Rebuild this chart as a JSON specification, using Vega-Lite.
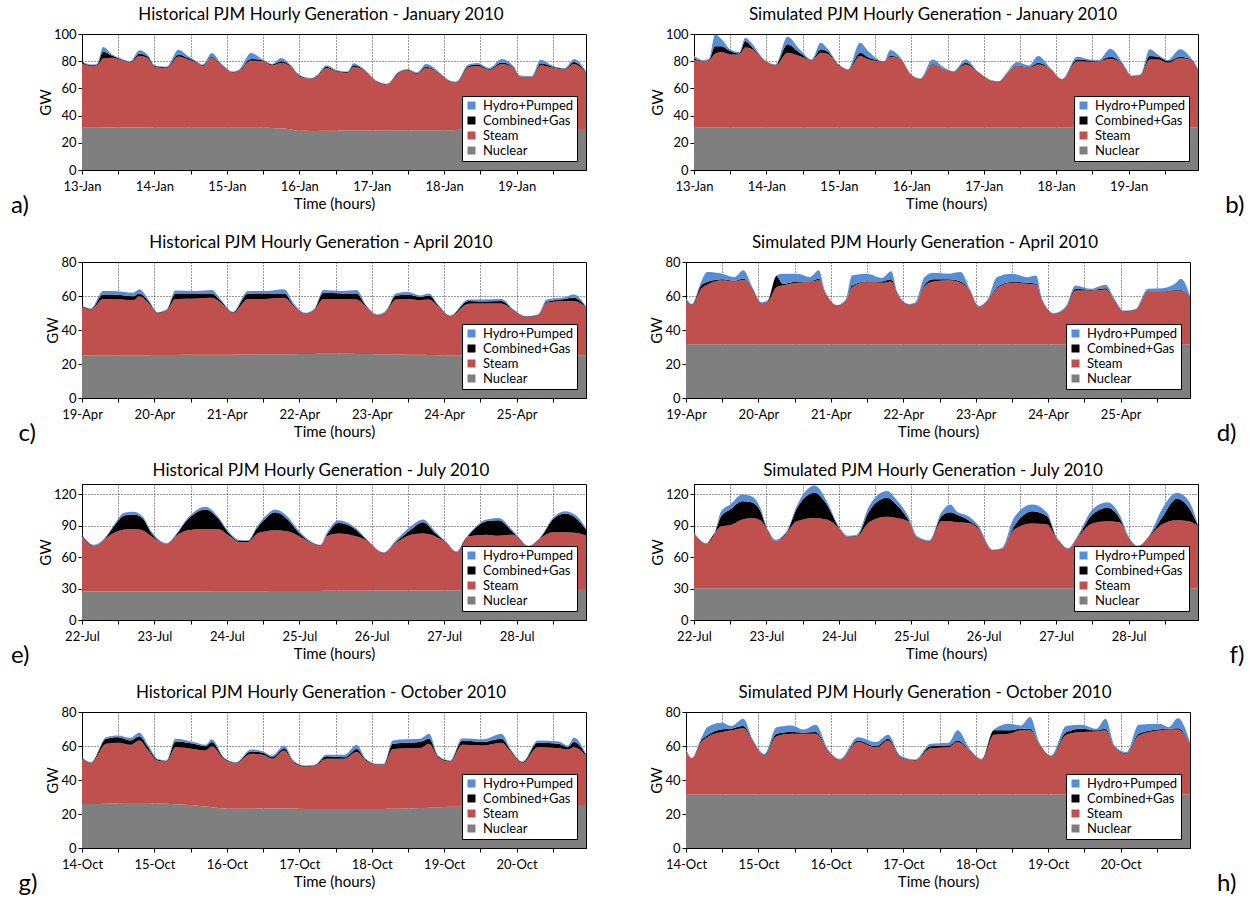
{
"$schema":"https://vega.github.io/schema/vega-lite/v6.json",
"padding":{"left":10,"top":5,"right":0,"bottom":0},
"config":{"font":"Lato","view":{"stroke":"black","strokeWidth":1},
"title":{"font":"Lato","fontSize":17,"fontWeight":"normal","color":"black","frame":"group","dx":-13,"offset":4},
"axis":{"domainColor":"black","tickColor":"black","labelColor":"black","titleColor":"black","labelFont":"Lato","titleFont":"Lato","labelFontSize":13,"titleFontSize":15,"titleFontWeight":"normal","gridColor":"black","gridDash":[1,2],"gridOpacity":0.8,"tickSize":4},
"axisX":{"labelPadding":6,"titlePadding":3,"labelFlush":false,"labelOverlap":false},
"axisY":{"labelPadding":2,"titlePadding":0},
"legend":{"orient":"bottom-right","offset":9,"padding":3,"fillColor":"white","strokeColor":"black","symbolType":"square","symbolSize":64,"symbolStrokeWidth":0,"labelFontSize":13,"labelFont":"Lato","labelColor":"black","rowPadding":1,"labelOffset":5}},
"data":{"values":[
{"p":"a","h":0,"a":31.4,"b":47.1,"c":1,"d":0.5},{"p":"a","h":3,"a":31.4,"b":45.1,"c":0.5,"d":0.5},{"p":"a","h":5,"a":31.4,"b":45.6,"c":0.5,"d":0.5},{"p":"a","h":7,"a":31.3,"b":50.7,"c":5,"d":3.4},{"p":"a","h":10,"a":31.3,"b":51.2,"c":1.5,"d":1},{"p":"a","h":13,"a":31.2,"b":49.8,"c":0.5,"d":0.5},{"p":"a","h":16,"a":31.2,"b":47.8,"c":0.5,"d":0.5},{"p":"a","h":19,"a":31.2,"b":52.8,"c":1.5,"d":2.5},{"p":"a","h":22,"a":31.2,"b":50.8,"c":1,"d":1},{"p":"a","h":24,"a":31.1,"b":44.9,"c":0.5,"d":0.5},{"p":"a","h":28,"a":31.1,"b":43.9,"c":0.5,"d":0.5},{"p":"a","h":32,"a":31.1,"b":52.4,"c":1.5,"d":3.5},{"p":"a","h":35,"a":31,"b":50.5,"c":1,"d":1.5},{"p":"a","h":38,"a":31,"b":48,"c":0.5,"d":0.5},{"p":"a","h":40,"a":31,"b":45.5,"c":0.5,"d":0.5},{"p":"a","h":43,"a":31,"b":51.5,"c":0.5,"d":3},{"p":"a","h":46,"a":31,"b":46.5,"c":0.5,"d":0.7},{"p":"a","h":50,"a":31,"b":40.7,"c":0.3,"d":0.5},{"p":"a","h":52,"a":31,"b":42,"c":0.3,"d":0.5},{"p":"a","h":56,"a":31,"b":49.4,"c":1.2,"d":4.4},{"p":"a","h":60,"a":31,"b":49,"c":0.5,"d":0.5},{"p":"a","h":63,"a":30.8,"b":46.2,"c":0.5,"d":0.5},{"p":"a","h":66,"a":30.5,"b":48.2,"c":1.3,"d":2.3},{"p":"a","h":69,"a":30,"b":46.5,"c":0.5,"d":0.5},{"p":"a","h":72,"a":28.8,"b":40.2,"c":0.5,"d":0.5},{"p":"a","h":76,"a":28.7,"b":38.3,"c":0.2,"d":0.4},{"p":"a","h":78,"a":28.7,"b":40.3,"c":0.5,"d":0.5},{"p":"a","h":81,"a":28.8,"b":46.2,"c":1,"d":1},{"p":"a","h":84,"a":28.9,"b":43.9,"c":0.4,"d":0.6},{"p":"a","h":88,"a":29,"b":42.5,"c":0.5,"d":0.5},{"p":"a","h":90,"a":29,"b":47,"c":1,"d":1.5},{"p":"a","h":93,"a":29,"b":45,"c":0.5,"d":0.5},{"p":"a","h":98,"a":29.1,"b":35.4,"c":0.3,"d":0.4},{"p":"a","h":101,"a":29.1,"b":33.7,"c":0.2,"d":0.5},{"p":"a","h":105,"a":29.2,"b":42.3,"c":0.5,"d":0.5},{"p":"a","h":108,"a":29.2,"b":44.1,"c":0.5,"d":0.5},{"p":"a","h":111,"a":29.2,"b":41.6,"c":0.5,"d":0.5},{"p":"a","h":114,"a":29.2,"b":45.8,"c":1,"d":2},{"p":"a","h":119,"a":29.3,"b":40.7,"c":0.3,"d":0.5},{"p":"a","h":121,"a":29.3,"b":37,"c":0.3,"d":0.4},{"p":"a","h":124,"a":29.5,"b":34.8,"c":0.3,"d":0.4},{"p":"a","h":128,"a":30,"b":45.5,"c":1,"d":1},{"p":"a","h":131,"a":30.1,"b":46.4,"c":1,"d":1.2},{"p":"a","h":135,"a":30.1,"b":43.7,"c":0.5,"d":0.7},{"p":"a","h":139,"a":30.1,"b":47.9,"c":1,"d":2.6},{"p":"a","h":143,"a":30.1,"b":44.9,"c":0.5,"d":0.7},{"p":"a","h":145,"a":30.1,"b":38.6,"c":0.3,"d":0.4},{"p":"a","h":149,"a":30.1,"b":38.1,"c":0.3,"d":0.4},{"p":"a","h":152,"a":30.1,"b":46.9,"c":1.5,"d":2.6},{"p":"a","h":156,"a":30.1,"b":45.2,"c":0.7,"d":0.7},{"p":"a","h":160,"a":30.1,"b":43.9,"c":0.5,"d":0.5},{"p":"a","h":163,"a":30.1,"b":47.9,"c":1.5,"d":2.1},{"p":"a","h":167,"a":30.1,"b":41.4,"c":0.5,"d":0.5},
{"p":"b","h":0,"a":31.4,"b":49.9,"c":0.7,"d":2},{"p":"b","h":3,"a":31.4,"b":48.6,"c":0.3,"d":0.5},{"p":"b","h":5,"a":31.4,"b":49.4,"c":0.4,"d":0.6},{"p":"b","h":7,"a":31.4,"b":54.1,"c":5.5,"d":8.7},{"p":"b","h":9,"a":31.4,"b":55.3,"c":4.3,"d":5.5},{"p":"b","h":12,"a":31.4,"b":53.6,"c":2.5,"d":1.2},{"p":"b","h":15,"a":31.4,"b":53.6,"c":0.7,"d":1},{"p":"b","h":17,"a":31.4,"b":58.6,"c":4.8,"d":2.5},{"p":"b","h":19,"a":31.4,"b":57.8,"c":1.8,"d":2.6},{"p":"b","h":23,"a":31.4,"b":49.9,"c":0.2,"d":0.3},{"p":"b","h":27,"a":31.4,"b":45.7,"c":0.2,"d":0.3},{"p":"b","h":31,"a":31.4,"b":54.8,"c":6.2,"d":5.6},{"p":"b","h":35,"a":31.4,"b":52.4,"c":2.4,"d":2.5},{"p":"b","h":39,"a":31.4,"b":49.4,"c":0.2,"d":0.3},{"p":"b","h":42,"a":31.4,"b":54.8,"c":2.5,"d":4.9},{"p":"b","h":44,"a":31.4,"b":54.3,"c":1.8,"d":2.4},{"p":"b","h":48,"a":31.4,"b":45.7,"c":0.2,"d":0.3},{"p":"b","h":51,"a":31.4,"b":42.1,"c":0.2,"d":0.3},{"p":"b","h":55,"a":31.4,"b":52.4,"c":2.4,"d":7.4},{"p":"b","h":58,"a":31.4,"b":49.9,"c":1.2,"d":4.2},{"p":"b","h":61,"a":31.4,"b":48.6,"c":0.5,"d":0.8},{"p":"b","h":63,"a":31.4,"b":48.2,"c":0.2,"d":0.2},{"p":"b","h":65,"a":31.4,"b":51.6,"c":0.8,"d":4.4},{"p":"b","h":68,"a":31.4,"b":51.1,"c":0.3,"d":1},{"p":"b","h":72,"a":31.4,"b":38.4,"c":0.2,"d":0.3},{"p":"b","h":75,"a":31.4,"b":35.4,"c":0.2,"d":0.3},{"p":"b","h":79,"a":31.4,"b":46.2,"c":0.4,"d":3.3},{"p":"b","h":83,"a":31.4,"b":42.6,"c":0.3,"d":0.9},{"p":"b","h":86,"a":31.4,"b":40.8,"c":0.2,"d":0.3},{"p":"b","h":90,"a":31.4,"b":46.2,"c":1.3,"d":2.4},{"p":"b","h":94,"a":31.4,"b":40.8,"c":0.2,"d":0.3},{"p":"b","h":99,"a":31.4,"b":34,"c":0.2,"d":0.2},{"p":"b","h":101,"a":31.4,"b":33.6,"c":0.2,"d":0.2},{"p":"b","h":104,"a":31.4,"b":40.1,"c":0.3,"d":0.9},{"p":"b","h":107,"a":31.4,"b":45,"c":0.4,"d":2.6},{"p":"b","h":111,"a":31.4,"b":43.8,"c":0.4,"d":1.3},{"p":"b","h":114,"a":31.4,"b":46.2,"c":1.3,"d":4.9},{"p":"b","h":118,"a":31.4,"b":43,"c":0.3,"d":0.5},{"p":"b","h":122,"a":31.4,"b":35.2,"c":0.2,"d":0.2},{"p":"b","h":127,"a":31.4,"b":48.6,"c":1.3,"d":2},{"p":"b","h":131,"a":31.4,"b":48.2,"c":1,"d":0.7},{"p":"b","h":134,"a":31.4,"b":48.5,"c":0.4,"d":0.5},{"p":"b","h":138,"a":31.4,"b":50.4,"c":1.5,"d":5.9},{"p":"b","h":142,"a":31.4,"b":46.2,"c":0.3,"d":1},{"p":"b","h":145,"a":31.4,"b":37.6,"c":0.2,"d":0.3},{"p":"b","h":148,"a":31.4,"b":38.4,"c":0.2,"d":0.3},{"p":"b","h":151,"a":31.4,"b":49.9,"c":2.5,"d":4.9},{"p":"b","h":154,"a":31.4,"b":49.9,"c":1.7,"d":1.3},{"p":"b","h":157,"a":31.4,"b":47.5,"c":1.2,"d":0.7},{"p":"b","h":161,"a":31.4,"b":50.9,"c":1,"d":5.4},{"p":"b","h":165,"a":31.4,"b":49.2,"c":0.3,"d":0.4},{"p":"b","h":167,"a":31.4,"b":42.1,"c":0.3,"d":0.6},
{"p":"c","h":0,"a":25,"b":28.6,"c":0.4,"d":0.4},{"p":"c","h":3,"a":25,"b":27.2,"c":0.2,"d":0.3},{"p":"c","h":7,"a":25.1,"b":33.2,"c":2.6,"d":2},{"p":"c","h":10,"a":25.1,"b":33.2,"c":2.6,"d":2},{"p":"c","h":17,"a":25.2,"b":32.4,"c":2.3,"d":2},{"p":"c","h":19,"a":25.2,"b":34.7,"c":1.6,"d":2.4},{"p":"c","h":22,"a":25.2,"b":30.8,"c":1,"d":1},{"p":"c","h":25,"a":25.3,"b":24.8,"c":0.2,"d":0.2},{"p":"c","h":28,"a":25.3,"b":26.2,"c":0.2,"d":0.3},{"p":"c","h":31,"a":25.3,"b":33,"c":3.2,"d":1.8},{"p":"c","h":38,"a":25.4,"b":33.1,"c":3,"d":1.4},{"p":"c","h":43,"a":25.4,"b":33.5,"c":2.6,"d":2},{"p":"c","h":46,"a":25.5,"b":30.5,"c":1,"d":1},{"p":"c","h":50,"a":25.5,"b":24.6,"c":0.3,"d":0.3},{"p":"c","h":55,"a":25.6,"b":32.7,"c":3,"d":1.6},{"p":"c","h":61,"a":25.7,"b":32.6,"c":3.2,"d":1.4},{"p":"c","h":67,"a":25.8,"b":33.1,"c":2.6,"d":2.4},{"p":"c","h":70,"a":25.8,"b":28.6,"c":0.6,"d":1},{"p":"c","h":74,"a":25.9,"b":23.7,"c":0.2,"d":0.3},{"p":"c","h":77,"a":25.9,"b":26.1,"c":0.2,"d":0.3},{"p":"c","h":80,"a":26,"b":32.3,"c":3.6,"d":1.6},{"p":"c","h":86,"a":26,"b":32.3,"c":3.2,"d":1.4},{"p":"c","h":91,"a":25.9,"b":32.1,"c":3.5,"d":2},{"p":"c","h":94,"a":25.9,"b":28.1,"c":0.5,"d":0.5},{"p":"c","h":98,"a":25.8,"b":22.8,"c":0.2,"d":0.3},{"p":"c","h":101,"a":25.7,"b":25.8,"c":0.2,"d":0.3},{"p":"c","h":104,"a":25.6,"b":32.4,"c":2.3,"d":1.2},{"p":"c","h":108,"a":25.5,"b":32.8,"c":2.5,"d":1.5},{"p":"c","h":112,"a":25.4,"b":32.2,"c":1.9,"d":0.8},{"p":"c","h":115,"a":25.3,"b":32.7,"c":2.3,"d":1.2},{"p":"c","h":118,"a":25.2,"b":28.8,"c":0.5,"d":0.5},{"p":"c","h":122,"a":25.1,"b":23,"c":0.2,"d":0.2},{"p":"c","h":128,"a":25,"b":30.4,"c":1.6,"d":1},{"p":"c","h":132,"a":25,"b":30.6,"c":1.2,"d":1.2},{"p":"c","h":139,"a":25,"b":30.6,"c":1.4,"d":1.3},{"p":"c","h":143,"a":25,"b":26.5,"c":0.2,"d":0.3},{"p":"c","h":147,"a":25,"b":22.7,"c":0.2,"d":0.2},{"p":"c","h":151,"a":25,"b":23.6,"c":0.2,"d":0.3},{"p":"c","h":154,"a":25,"b":31,"c":0.6,"d":1.4},{"p":"c","h":160,"a":25,"b":32,"c":1.3,"d":1},{"p":"c","h":163,"a":25,"b":32,"c":1.9,"d":2},{"p":"c","h":167,"a":25,"b":28.2,"c":0.3,"d":0.5},
{"p":"d","h":0,"a":31.6,"b":25.1,"c":0.3,"d":1.7},{"p":"d","h":2,"a":31.6,"b":23.1,"c":0.3,"d":0.3},{"p":"d","h":5,"a":31.6,"b":32.6,"c":2,"d":2},{"p":"d","h":7,"a":31.6,"b":35,"c":1.6,"d":5.9},{"p":"d","h":12,"a":31.6,"b":37.6,"c":0.6,"d":3.3},{"p":"d","h":16,"a":31.6,"b":37,"c":0.4,"d":2.1},{"p":"d","h":19,"a":31.6,"b":38,"c":0.6,"d":4.9},{"p":"d","h":22,"a":31.6,"b":32.6,"c":0.3,"d":0.7},{"p":"d","h":25,"a":31.6,"b":23.7,"c":0.3,"d":0.7},{"p":"d","h":27,"a":31.6,"b":24.7,"c":0.3,"d":0.7},{"p":"d","h":30,"a":31.6,"b":33.6,"c":6.5,"d":0.4},{"p":"d","h":32,"a":31.6,"b":34.6,"c":1,"d":5.9},{"p":"d","h":37,"a":31.6,"b":36.2,"c":0.8,"d":4.5},{"p":"d","h":41,"a":31.6,"b":36.6,"c":0.4,"d":2.5},{"p":"d","h":44,"a":31.6,"b":37.6,"c":1,"d":4.9},{"p":"d","h":46,"a":31.6,"b":30.7,"c":0.3,"d":0.6},{"p":"d","h":50,"a":31.6,"b":22.7,"c":0.2,"d":0.2},{"p":"d","h":53,"a":31.6,"b":25.7,"c":0.2,"d":0.8},{"p":"d","h":55,"a":31.6,"b":33.6,"c":1,"d":5.9},{"p":"d","h":60,"a":31.6,"b":36.6,"c":0.4,"d":4.5},{"p":"d","h":65,"a":31.6,"b":36.2,"c":0.8,"d":2},{"p":"d","h":68,"a":31.6,"b":37,"c":1.2,"d":4.7},{"p":"d","h":70,"a":31.6,"b":29.7,"c":0.3,"d":0.7},{"p":"d","h":74,"a":31.6,"b":23.1,"c":0.3,"d":0.3},{"p":"d","h":76,"a":31.6,"b":24,"c":0.2,"d":0.5},{"p":"d","h":79,"a":31.6,"b":34.2,"c":0.8,"d":4.5},{"p":"d","h":82,"a":31.6,"b":37,"c":1.2,"d":3.9},{"p":"d","h":87,"a":31.6,"b":37.6,"c":0.6,"d":3.3},{"p":"d","h":91,"a":31.6,"b":36.2,"c":0.8,"d":5.5},{"p":"d","h":94,"a":31.6,"b":31.6,"c":0.3,"d":0.7},{"p":"d","h":97,"a":31.6,"b":21.8,"c":0.2,"d":0.7},{"p":"d","h":100,"a":31.6,"b":25.8,"c":0.2,"d":0.7},{"p":"d","h":103,"a":31.6,"b":33,"c":0.6,"d":5.9},{"p":"d","h":108,"a":31.6,"b":36.2,"c":0.4,"d":4.9},{"p":"d","h":113,"a":31.6,"b":35.6,"c":0.6,"d":3.3},{"p":"d","h":116,"a":31.6,"b":35,"c":0.6,"d":4.9},{"p":"d","h":118,"a":31.6,"b":25.7,"c":0.3,"d":0.7},{"p":"d","h":122,"a":31.6,"b":17.8,"c":0.2,"d":0.4},{"p":"d","h":126,"a":31.6,"b":21.7,"c":0.2,"d":0.8},{"p":"d","h":129,"a":31.6,"b":31.6,"c":1,"d":2},{"p":"d","h":134,"a":31.6,"b":31.6,"c":0.3,"d":0.7},{"p":"d","h":139,"a":31.6,"b":32.2,"c":0.8,"d":2},{"p":"d","h":142,"a":31.6,"b":25.7,"c":0.3,"d":0.7},{"p":"d","h":145,"a":31.6,"b":19.2,"c":0.2,"d":0.4},{"p":"d","h":149,"a":31.6,"b":20.2,"c":0.2,"d":0.4},{"p":"d","h":153,"a":31.6,"b":30.7,"c":0.3,"d":1.6},{"p":"d","h":158,"a":31.6,"b":30.7,"c":0.3,"d":2},{"p":"d","h":162,"a":31.6,"b":31.6,"c":0.3,"d":3.7},{"p":"d","h":164,"a":31.6,"b":31.6,"c":0.3,"d":6.7},{"p":"d","h":167,"a":31.6,"b":27.7,"c":0.3,"d":0.7},
{"p":"e","h":0,"a":27.2,"b":52.8,"c":1,"d":0.6},{"p":"e","h":4,"a":27.2,"b":43.2,"c":0.6,"d":1},{"p":"e","h":8,"a":27.2,"b":51.2,"c":1,"d":0.6},{"p":"e","h":11,"a":27.2,"b":56.6,"c":7.4,"d":1.6},{"p":"e","h":14,"a":27.2,"b":59.2,"c":13.4,"d":2.6},{"p":"e","h":17,"a":27.2,"b":59.8,"c":13.8,"d":2.6},{"p":"e","h":20,"a":27.2,"b":58.6,"c":11.8,"d":1.6},{"p":"e","h":23,"a":27.2,"b":52.8,"c":3.2,"d":1.6},{"p":"e","h":28,"a":27.3,"b":45.3,"c":0.4,"d":0.6},{"p":"e","h":31,"a":27.3,"b":52.7,"c":0.8,"d":0.8},{"p":"e","h":35,"a":27.3,"b":58.5,"c":10.2,"d":1.6},{"p":"e","h":41,"a":27.3,"b":59.7,"c":18.6,"d":2.6},{"p":"e","h":45,"a":27.4,"b":59.6,"c":10.6,"d":1.6},{"p":"e","h":49,"a":27.4,"b":52.6,"c":2,"d":1.2},{"p":"e","h":52,"a":27.5,"b":47.1,"c":1,"d":1.2},{"p":"e","h":55,"a":27.5,"b":47.1,"c":0.8,"d":0.8},{"p":"e","h":58,"a":27.6,"b":55,"c":5.4,"d":1.6},{"p":"e","h":61,"a":27.6,"b":57.2,"c":12.8,"d":2.2},{"p":"e","h":64,"a":27.7,"b":58.1,"c":17.2,"d":2.6},{"p":"e","h":68,"a":27.7,"b":57.1,"c":11.8,"d":2.6},{"p":"e","h":72,"a":27.8,"b":52.2,"c":3,"d":1.8},{"p":"e","h":75,"a":27.8,"b":47.4,"c":0.8,"d":0.8},{"p":"e","h":79,"a":27.8,"b":43.2,"c":0.5,"d":0.5},{"p":"e","h":81,"a":27.9,"b":52.1,"c":1,"d":1.6},{"p":"e","h":85,"a":27.9,"b":54.7,"c":10.2,"d":2.6},{"p":"e","h":90,"a":28,"b":52.6,"c":7.4,"d":1.6},{"p":"e","h":94,"a":28,"b":48.8,"c":0.8,"d":0.8},{"p":"e","h":100,"a":28.1,"b":35.9,"c":0.3,"d":0.3},{"p":"e","h":104,"a":28.1,"b":45.5,"c":0.9,"d":1.7},{"p":"e","h":109,"a":28.2,"b":53.4,"c":4.8,"d":3.2},{"p":"e","h":113,"a":28.2,"b":54.4,"c":10.8,"d":2.6},{"p":"e","h":117,"a":28.3,"b":51.7,"c":3.2,"d":1.6},{"p":"e","h":121,"a":28.3,"b":44.7,"c":0.3,"d":0.3},{"p":"e","h":124,"a":28.4,"b":36.2,"c":0.4,"d":0.6},{"p":"e","h":128,"a":28.4,"b":51.6,"c":0.8,"d":0.8},{"p":"e","h":134,"a":28.5,"b":53.1,"c":12.8,"d":1.6},{"p":"e","h":138,"a":28.5,"b":52.1,"c":14.8,"d":2.2},{"p":"e","h":143,"a":28.6,"b":53,"c":1.9,"d":1.3},{"p":"e","h":148,"a":28.6,"b":41.8,"c":0.3,"d":0.3},{"p":"e","h":152,"a":28.7,"b":49.7,"c":0.6,"d":1},{"p":"e","h":156,"a":28.7,"b":55.1,"c":12.2,"d":1.6},{"p":"e","h":160,"a":28.8,"b":55,"c":18,"d":2.2},{"p":"e","h":164,"a":28.8,"b":54.4,"c":13.4,"d":2.6},{"p":"e","h":167,"a":28.8,"b":51.8,"c":5.8,"d":1.6},
{"p":"f","h":0,"a":30.4,"b":52.2,"c":0.4,"d":0.8},{"p":"f","h":4,"a":30.4,"b":42.6,"c":0.2,"d":0.4},{"p":"f","h":7,"a":30.4,"b":53.4,"c":0.4,"d":0.6},{"p":"f","h":9,"a":30.4,"b":59.2,"c":9.6,"d":4.8},{"p":"f","h":12,"a":30.4,"b":60.2,"c":15,"d":4.8},{"p":"f","h":16,"a":30.4,"b":65.6,"c":17.6,"d":6.4},{"p":"f","h":19,"a":30.4,"b":67.2,"c":15,"d":5.8},{"p":"f","h":22,"a":30.4,"b":65,"c":8.6,"d":3.2},{"p":"f","h":24,"a":30.4,"b":57.6,"c":0.5,"d":1.1},{"p":"f","h":27,"a":30.4,"b":44.8,"c":0.4,"d":1.2},{"p":"f","h":31,"a":30.4,"b":54.4,"c":0.6,"d":1},{"p":"f","h":34,"a":30.4,"b":64,"c":11.8,"d":2.6},{"p":"f","h":40,"a":30.4,"b":67.2,"c":24,"d":7},{"p":"f","h":44,"a":30.4,"b":65.6,"c":14.4,"d":3.2},{"p":"f","h":48,"a":30.4,"b":57.6,"c":0.5,"d":1.1},{"p":"f","h":51,"a":30.4,"b":49,"c":0.4,"d":0.8},{"p":"f","h":54,"a":30.4,"b":49.6,"c":0.5,"d":1.1},{"p":"f","h":58,"a":30.4,"b":63,"c":10.6,"d":4.8},{"p":"f","h":64,"a":30.4,"b":68.2,"c":18.2,"d":6.4},{"p":"f","h":67,"a":30.4,"b":67.2,"c":12.8,"d":4.8},{"p":"f","h":71,"a":30.4,"b":64,"c":1.6,"d":3.2},{"p":"f","h":74,"a":30.4,"b":48,"c":0.4,"d":1.2},{"p":"f","h":78,"a":30.4,"b":44.8,"c":0.4,"d":0.6},{"p":"f","h":82,"a":30.4,"b":64,"c":4.8,"d":3.8},{"p":"f","h":85,"a":30.4,"b":64,"c":8.6,"d":7.4},{"p":"f","h":87,"a":30.4,"b":63,"c":7.4,"d":3.2},{"p":"f","h":91,"a":30.4,"b":62.4,"c":2.6,"d":3.8},{"p":"f","h":94,"a":30.4,"b":57.6,"c":1,"d":2.2},{"p":"f","h":99,"a":30.4,"b":36.2,"c":0.3,"d":0.3},{"p":"f","h":102,"a":30.4,"b":37.6,"c":0.3,"d":0.5},{"p":"f","h":106,"a":30.4,"b":56,"c":3.2,"d":8},{"p":"f","h":112,"a":30.4,"b":61.8,"c":11.8,"d":6.4},{"p":"f","h":117,"a":30.4,"b":60.8,"c":8,"d":3.2},{"p":"f","h":120,"a":30.4,"b":48.6,"c":0.4,"d":0.6},{"p":"f","h":124,"a":30.4,"b":37.4,"c":0.3,"d":0.7},{"p":"f","h":127,"a":30.4,"b":48,"c":0.4,"d":1.2},{"p":"f","h":132,"a":30.4,"b":61.8,"c":8.6,"d":4.8},{"p":"f","h":137,"a":30.4,"b":64,"c":12.8,"d":5.4},{"p":"f","h":141,"a":30.4,"b":63,"c":4.2,"d":3.2},{"p":"f","h":144,"a":30.4,"b":48,"c":0.4,"d":1.2},{"p":"f","h":147,"a":30.4,"b":40,"c":0.2,"d":0.4},{"p":"f","h":151,"a":30.4,"b":50.2,"c":0.4,"d":0.6},{"p":"f","h":155,"a":30.4,"b":60.8,"c":6.4,"d":8},{"p":"f","h":160,"a":30.4,"b":65,"c":20.4,"d":5.8},{"p":"f","h":164,"a":30.4,"b":64,"c":12.8,"d":6.4},{"p":"f","h":167,"a":30.4,"b":59.2,"c":0.6,"d":1},
{"p":"g","h":0,"a":25.9,"b":26.6,"c":0.5,"d":0.4},{"p":"g","h":3,"a":25.9,"b":24.1,"c":0.2,"d":0.3},{"p":"g","h":8,"a":26.1,"b":35.2,"c":2.9,"d":1},{"p":"g","h":12,"a":26.3,"b":35.6,"c":3.3,"d":1},{"p":"g","h":16,"a":26.4,"b":34.3,"c":2.6,"d":1.5},{"p":"g","h":19,"a":26.5,"b":36.8,"c":2.5,"d":2},{"p":"g","h":22,"a":26.5,"b":30.9,"c":1.6,"d":1.3},{"p":"g","h":25,"a":26.3,"b":25.2,"c":0.5,"d":0.5},{"p":"g","h":28,"a":26.1,"b":24.8,"c":0.3,"d":0.3},{"p":"g","h":31,"a":25.8,"b":33.5,"c":3.4,"d":1.5},{"p":"g","h":37,"a":25.2,"b":33.1,"c":3,"d":1},{"p":"g","h":41,"a":24.4,"b":33,"c":2.5,"d":0.8},{"p":"g","h":43,"a":24,"b":35.9,"c":2.4,"d":1.6},{"p":"g","h":47,"a":23.3,"b":29.2,"c":0.5,"d":0.4},{"p":"g","h":51,"a":23.1,"b":26.8,"c":0.3,"d":0.3},{"p":"g","h":56,"a":23.1,"b":32.3,"c":1.4,"d":1.2},{"p":"g","h":60,"a":23.2,"b":31.6,"c":1.2,"d":0.8},{"p":"g","h":63,"a":23.2,"b":29.3,"c":0.9,"d":1},{"p":"g","h":67,"a":23.3,"b":34.1,"c":1.3,"d":1.6},{"p":"g","h":70,"a":23.2,"b":27.3,"c":0.5,"d":0.5},{"p":"g","h":74,"a":23,"b":24.9,"c":0.3,"d":0.3},{"p":"g","h":77,"a":23,"b":25.3,"c":0.3,"d":0.3},{"p":"g","h":81,"a":23,"b":29.5,"c":1.5,"d":0.8},{"p":"g","h":87,"a":23,"b":29.5,"c":0.9,"d":1.4},{"p":"g","h":91,"a":23,"b":33.4,"c":1.9,"d":2.4},{"p":"g","h":94,"a":23,"b":28.5,"c":0.5,"d":0.5},{"p":"g","h":98,"a":23,"b":25.9,"c":0.3,"d":0.3},{"p":"g","h":100,"a":23,"b":25.9,"c":0.3,"d":0.3},{"p":"g","h":103,"a":23.1,"b":35.2,"c":3,"d":2},{"p":"g","h":108,"a":23.3,"b":35.4,"c":3.2,"d":2},{"p":"g","h":112,"a":23.5,"b":35.2,"c":3.6,"d":1.9},{"p":"g","h":115,"a":23.7,"b":37.6,"c":2.9,"d":3},{"p":"g","h":118,"a":24,"b":29.4,"c":0.5,"d":0.5},{"p":"g","h":122,"a":24.2,"b":26.7,"c":0.3,"d":0.3},{"p":"g","h":126,"a":24.3,"b":36.4,"c":2.6,"d":1.3},{"p":"g","h":133,"a":24.4,"b":35.9,"c":2,"d":1.6},{"p":"g","h":139,"a":24.6,"b":37.3,"c":2.3,"d":3},{"p":"g","h":142,"a":24.7,"b":32.1,"c":0.7,"d":0.8},{"p":"g","h":146,"a":24.8,"b":25.3,"c":0.4,"d":0.4},{"p":"g","h":151,"a":25,"b":34.3,"c":2.6,"d":1.4},{"p":"g","h":158,"a":25.2,"b":33.5,"c":2.6,"d":1.4},{"p":"g","h":161,"a":25.3,"b":32.7,"c":1.3,"d":1},{"p":"g","h":163,"a":25.3,"b":34,"c":3,"d":2.5},{"p":"g","h":167,"a":25.3,"b":29.1,"c":0.5,"d":0.5},
{"p":"h","h":0,"a":31.4,"b":25,"c":0.4,"d":1.5},{"p":"h","h":2,"a":31.4,"b":21.4,"c":0.1,"d":0.1},{"p":"h","h":5,"a":31.4,"b":30.9,"c":1,"d":0.9},{"p":"h","h":7,"a":31.4,"b":33.8,"c":1,"d":4.9},{"p":"h","h":12,"a":31.4,"b":36.8,"c":1.6,"d":3.9},{"p":"h","h":15,"a":31.4,"b":37.8,"c":1,"d":1.5},{"p":"h","h":19,"a":31.4,"b":39.1,"c":1.2,"d":4.3},{"p":"h","h":22,"a":31.4,"b":31.9,"c":0.3,"d":0.6},{"p":"h","h":26,"a":31.4,"b":23,"c":0.3,"d":0.7},{"p":"h","h":30,"a":31.4,"b":34.4,"c":1.4,"d":3.9},{"p":"h","h":35,"a":31.4,"b":35.8,"c":1,"d":3.9},{"p":"h","h":39,"a":31.4,"b":35.8,"c":0.6,"d":1.9},{"p":"h","h":43,"a":31.4,"b":35.8,"c":1,"d":4.3},{"p":"h","h":47,"a":31.4,"b":26,"c":0.3,"d":0.6},{"p":"h","h":51,"a":31.4,"b":20.5,"c":0.2,"d":0.4},{"p":"h","h":57,"a":31.4,"b":30.9,"c":1,"d":1.9},{"p":"h","h":63,"a":31.4,"b":27.7,"c":0.8,"d":2.4},{"p":"h","h":67,"a":31.4,"b":31.9,"c":0.9,"d":2.4},{"p":"h","h":71,"a":31.4,"b":22,"c":0.3,"d":0.7},{"p":"h","h":76,"a":31.4,"b":20.1,"c":0.2,"d":0.4},{"p":"h","h":81,"a":31.4,"b":27.3,"c":1.2,"d":1.4},{"p":"h","h":87,"a":31.4,"b":27.9,"c":1,"d":1.6},{"p":"h","h":90,"a":31.4,"b":30.9,"c":1,"d":5.9},{"p":"h","h":94,"a":31.4,"b":26,"c":0.3,"d":0.6},{"p":"h","h":98,"a":31.4,"b":20.5,"c":0.2,"d":0.4},{"p":"h","h":102,"a":31.4,"b":35.2,"c":2.6,"d":0.5},{"p":"h","h":107,"a":31.4,"b":35.8,"c":2,"d":3.9},{"p":"h","h":111,"a":31.4,"b":37.8,"c":1,"d":1.9},{"p":"h","h":114,"a":31.4,"b":37.8,"c":1,"d":6.8},{"p":"h","h":117,"a":31.4,"b":29.9,"c":0.3,"d":0.7},{"p":"h","h":121,"a":31.4,"b":22.4,"c":0.2,"d":0.4},{"p":"h","h":126,"a":31.4,"b":35.2,"c":1.6,"d":3.5},{"p":"h","h":131,"a":31.4,"b":36.8,"c":2,"d":2.3},{"p":"h","h":136,"a":31.4,"b":37.2,"c":0.6,"d":0.9},{"p":"h","h":139,"a":31.4,"b":37.8,"c":1,"d":5.8},{"p":"h","h":142,"a":31.4,"b":27.9,"c":0.3,"d":0.7},{"p":"h","h":146,"a":31.4,"b":24,"c":0.3,"d":0.7},{"p":"h","h":150,"a":31.4,"b":34.8,"c":1,"d":5.3},{"p":"h","h":157,"a":31.4,"b":37.8,"c":0.6,"d":3.3},{"p":"h","h":160,"a":31.4,"b":38.3,"c":0.5,"d":0.9},{"p":"h","h":163,"a":31.4,"b":38.3,"c":0.8,"d":5.9},{"p":"h","h":167,"a":31.4,"b":29.9,"c":0.3,"d":0.7}
]},
"spacing":15,
"resolve":{"scale":{"x":"independent","y":"independent","color":"independent"},"legend":{"color":"independent"}},
"vconcat":[
{"spacing":62,"resolve":{"scale":{"x":"independent","y":"independent","color":"independent"},"legend":{"color":"independent"}},"hconcat":[
 {"title":{"text":"a)","orient":"bottom","anchor":"start","frame":"bounds","fontSize":24,"dx":-27,"dy":-18,"offset":0},"resolve":{"scale":{"color":"independent"},"legend":{"color":"independent"}},"vconcat":[
  {"width":504,"height":136,"title":{"text":"Historical PJM Hourly Generation - January 2010"},
   "transform":[{"filter":"datum.p==='a'"},{"fold":["a","b","c","d"],"as":["k","v"]}],
   "mark":{"type":"area","interpolate":"monotone"},
   "encoding":{"x":{"field":"h","type":"quantitative","scale":{"domain":[0,167],"nice":false},"axis":{"values":[0,12,24,36,48,60,72,84,96,108,120,132,144,156],"labelExpr":"datum.value%24===0?['13-Jan','14-Jan','15-Jan','16-Jan','17-Jan','18-Jan','19-Jan'][datum.value/24]:''","title":"Time (hours)"}},
    "y":{"field":"v","type":"quantitative","stack":"zero","scale":{"domain":[0,100],"nice":false},"axis":{"values":[0,20,40,60,80,100],"title":"GW"}},
    "color":{"field":"k","type":"nominal","scale":{"domain":["d","c","b","a"],"range":["#558ED5","#000000","#C0504D","#7F7F7F"]},"legend":{"title":null,"labelExpr":"datum.label=='d'?'Hydro+Pumped':datum.label=='c'?'Combined+Gas':datum.label=='b'?'Steam':'Nuclear'"}},
    "order":{"field":"k","type":"nominal"}}}]},
 {"title":{"text":"b)","orient":"bottom","anchor":"end","frame":"bounds","fontSize":24,"dx":46,"dy":-18,"offset":0},"resolve":{"scale":{"color":"independent"},"legend":{"color":"independent"}},"vconcat":[
  {"width":504,"height":136,"title":{"text":"Simulated PJM Hourly Generation - January 2010"},
   "transform":[{"filter":"datum.p==='b'"},{"fold":["a","b","c","d"],"as":["k","v"]}],
   "mark":{"type":"area","interpolate":"monotone"},
   "encoding":{"x":{"field":"h","type":"quantitative","scale":{"domain":[0,167],"nice":false},"axis":{"values":[0,12,24,36,48,60,72,84,96,108,120,132,144,156],"labelExpr":"datum.value%24===0?['13-Jan','14-Jan','15-Jan','16-Jan','17-Jan','18-Jan','19-Jan'][datum.value/24]:''","title":"Time (hours)"}},
    "y":{"field":"v","type":"quantitative","stack":"zero","scale":{"domain":[0,100],"nice":false},"axis":{"values":[0,20,40,60,80,100],"title":"GW"}},
    "color":{"field":"k","type":"nominal","scale":{"domain":["d","c","b","a"],"range":["#558ED5","#000000","#C0504D","#7F7F7F"]},"legend":{"title":null,"labelExpr":"datum.label=='d'?'Hydro+Pumped':datum.label=='c'?'Combined+Gas':datum.label=='b'?'Steam':'Nuclear'"}},
    "order":{"field":"k","type":"nominal"}}}]}
]},
{"spacing":62,"resolve":{"scale":{"x":"independent","y":"independent","color":"independent"},"legend":{"color":"independent"}},"hconcat":[
 {"title":{"text":"c)","orient":"bottom","anchor":"start","frame":"bounds","fontSize":24,"dx":-27,"dy":-18,"offset":0},"resolve":{"scale":{"color":"independent"},"legend":{"color":"independent"}},"vconcat":[
  {"width":504,"height":136,"title":{"text":"Historical PJM Hourly Generation - April 2010"},
   "transform":[{"filter":"datum.p==='c'"},{"fold":["a","b","c","d"],"as":["k","v"]}],
   "mark":{"type":"area","interpolate":"monotone"},
   "encoding":{"x":{"field":"h","type":"quantitative","scale":{"domain":[0,167],"nice":false},"axis":{"values":[0,12,24,36,48,60,72,84,96,108,120,132,144,156],"labelExpr":"datum.value%24===0?['19-Apr','20-Apr','21-Apr','22-Apr','23-Apr','24-Apr','25-Apr'][datum.value/24]:''","title":"Time (hours)"}},
    "y":{"field":"v","type":"quantitative","stack":"zero","scale":{"domain":[0,80],"nice":false},"axis":{"values":[0,20,40,60,80],"title":"GW"}},
    "color":{"field":"k","type":"nominal","scale":{"domain":["d","c","b","a"],"range":["#558ED5","#000000","#C0504D","#7F7F7F"]},"legend":{"title":null,"labelExpr":"datum.label=='d'?'Hydro+Pumped':datum.label=='c'?'Combined+Gas':datum.label=='b'?'Steam':'Nuclear'"}},
    "order":{"field":"k","type":"nominal"}}}]},
 {"title":{"text":"d)","orient":"bottom","anchor":"end","frame":"bounds","fontSize":24,"dx":46,"dy":-18,"offset":0},"resolve":{"scale":{"color":"independent"},"legend":{"color":"independent"}},"vconcat":[
  {"width":504,"height":136,"title":{"text":"Simulated PJM Hourly Generation - April 2010"},
   "transform":[{"filter":"datum.p==='d'"},{"fold":["a","b","c","d"],"as":["k","v"]}],
   "mark":{"type":"area","interpolate":"monotone"},
   "encoding":{"x":{"field":"h","type":"quantitative","scale":{"domain":[0,167],"nice":false},"axis":{"values":[0,12,24,36,48,60,72,84,96,108,120,132,144,156],"labelExpr":"datum.value%24===0?['19-Apr','20-Apr','21-Apr','22-Apr','23-Apr','24-Apr','25-Apr'][datum.value/24]:''","title":"Time (hours)"}},
    "y":{"field":"v","type":"quantitative","stack":"zero","scale":{"domain":[0,80],"nice":false},"axis":{"values":[0,20,40,60,80],"title":"GW"}},
    "color":{"field":"k","type":"nominal","scale":{"domain":["d","c","b","a"],"range":["#558ED5","#000000","#C0504D","#7F7F7F"]},"legend":{"title":null,"labelExpr":"datum.label=='d'?'Hydro+Pumped':datum.label=='c'?'Combined+Gas':datum.label=='b'?'Steam':'Nuclear'"}},
    "order":{"field":"k","type":"nominal"}}}]}
]},
{"spacing":62,"resolve":{"scale":{"x":"independent","y":"independent","color":"independent"},"legend":{"color":"independent"}},"hconcat":[
 {"title":{"text":"e)","orient":"bottom","anchor":"start","frame":"bounds","fontSize":24,"dx":-27,"dy":-18,"offset":0},"resolve":{"scale":{"color":"independent"},"legend":{"color":"independent"}},"vconcat":[
  {"width":504,"height":136,"title":{"text":"Historical PJM Hourly Generation - July 2010"},
   "transform":[{"filter":"datum.p==='e'"},{"fold":["a","b","c","d"],"as":["k","v"]}],
   "mark":{"type":"area","interpolate":"monotone"},
   "encoding":{"x":{"field":"h","type":"quantitative","scale":{"domain":[0,167],"nice":false},"axis":{"values":[0,12,24,36,48,60,72,84,96,108,120,132,144,156],"labelExpr":"datum.value%24===0?['22-Jul','23-Jul','24-Jul','25-Jul','26-Jul','27-Jul','28-Jul'][datum.value/24]:''","title":"Time (hours)"}},
    "y":{"field":"v","type":"quantitative","stack":"zero","scale":{"domain":[0,130],"nice":false},"axis":{"values":[0,30,60,90,120],"title":"GW"}},
    "color":{"field":"k","type":"nominal","scale":{"domain":["d","c","b","a"],"range":["#558ED5","#000000","#C0504D","#7F7F7F"]},"legend":{"title":null,"labelExpr":"datum.label=='d'?'Hydro+Pumped':datum.label=='c'?'Combined+Gas':datum.label=='b'?'Steam':'Nuclear'"}},
    "order":{"field":"k","type":"nominal"}}}]},
 {"title":{"text":"f)","orient":"bottom","anchor":"end","frame":"bounds","fontSize":24,"dx":46,"dy":-18,"offset":0},"resolve":{"scale":{"color":"independent"},"legend":{"color":"independent"}},"vconcat":[
  {"width":504,"height":136,"title":{"text":"Simulated PJM Hourly Generation - July 2010"},
   "transform":[{"filter":"datum.p==='f'"},{"fold":["a","b","c","d"],"as":["k","v"]}],
   "mark":{"type":"area","interpolate":"monotone"},
   "encoding":{"x":{"field":"h","type":"quantitative","scale":{"domain":[0,167],"nice":false},"axis":{"values":[0,12,24,36,48,60,72,84,96,108,120,132,144,156],"labelExpr":"datum.value%24===0?['22-Jul','23-Jul','24-Jul','25-Jul','26-Jul','27-Jul','28-Jul'][datum.value/24]:''","title":"Time (hours)"}},
    "y":{"field":"v","type":"quantitative","stack":"zero","scale":{"domain":[0,130],"nice":false},"axis":{"values":[0,30,60,90,120],"title":"GW"}},
    "color":{"field":"k","type":"nominal","scale":{"domain":["d","c","b","a"],"range":["#558ED5","#000000","#C0504D","#7F7F7F"]},"legend":{"title":null,"labelExpr":"datum.label=='d'?'Hydro+Pumped':datum.label=='c'?'Combined+Gas':datum.label=='b'?'Steam':'Nuclear'"}},
    "order":{"field":"k","type":"nominal"}}}]}
]},
{"spacing":62,"resolve":{"scale":{"x":"independent","y":"independent","color":"independent"},"legend":{"color":"independent"}},"hconcat":[
 {"title":{"text":"g)","orient":"bottom","anchor":"start","frame":"bounds","fontSize":24,"dx":-27,"dy":-18,"offset":0},"resolve":{"scale":{"color":"independent"},"legend":{"color":"independent"}},"vconcat":[
  {"width":504,"height":136,"title":{"text":"Historical PJM Hourly Generation - October 2010"},
   "transform":[{"filter":"datum.p==='g'"},{"fold":["a","b","c","d"],"as":["k","v"]}],
   "mark":{"type":"area","interpolate":"monotone"},
   "encoding":{"x":{"field":"h","type":"quantitative","scale":{"domain":[0,167],"nice":false},"axis":{"values":[0,12,24,36,48,60,72,84,96,108,120,132,144,156],"labelExpr":"datum.value%24===0?['14-Oct','15-Oct','16-Oct','17-Oct','18-Oct','19-Oct','20-Oct'][datum.value/24]:''","title":"Time (hours)"}},
    "y":{"field":"v","type":"quantitative","stack":"zero","scale":{"domain":[0,80],"nice":false},"axis":{"values":[0,20,40,60,80],"title":"GW"}},
    "color":{"field":"k","type":"nominal","scale":{"domain":["d","c","b","a"],"range":["#558ED5","#000000","#C0504D","#7F7F7F"]},"legend":{"title":null,"labelExpr":"datum.label=='d'?'Hydro+Pumped':datum.label=='c'?'Combined+Gas':datum.label=='b'?'Steam':'Nuclear'"}},
    "order":{"field":"k","type":"nominal"}}}]},
 {"title":{"text":"h)","orient":"bottom","anchor":"end","frame":"bounds","fontSize":24,"dx":46,"dy":-18,"offset":0},"resolve":{"scale":{"color":"independent"},"legend":{"color":"independent"}},"vconcat":[
  {"width":504,"height":136,"title":{"text":"Simulated PJM Hourly Generation - October 2010"},
   "transform":[{"filter":"datum.p==='h'"},{"fold":["a","b","c","d"],"as":["k","v"]}],
   "mark":{"type":"area","interpolate":"monotone"},
   "encoding":{"x":{"field":"h","type":"quantitative","scale":{"domain":[0,167],"nice":false},"axis":{"values":[0,12,24,36,48,60,72,84,96,108,120,132,144,156],"labelExpr":"datum.value%24===0?['14-Oct','15-Oct','16-Oct','17-Oct','18-Oct','19-Oct','20-Oct'][datum.value/24]:''","title":"Time (hours)"}},
    "y":{"field":"v","type":"quantitative","stack":"zero","scale":{"domain":[0,80],"nice":false},"axis":{"values":[0,20,40,60,80],"title":"GW"}},
    "color":{"field":"k","type":"nominal","scale":{"domain":["d","c","b","a"],"range":["#558ED5","#000000","#C0504D","#7F7F7F"]},"legend":{"title":null,"labelExpr":"datum.label=='d'?'Hydro+Pumped':datum.label=='c'?'Combined+Gas':datum.label=='b'?'Steam':'Nuclear'"}},
    "order":{"field":"k","type":"nominal"}}}]}
]}
]}
